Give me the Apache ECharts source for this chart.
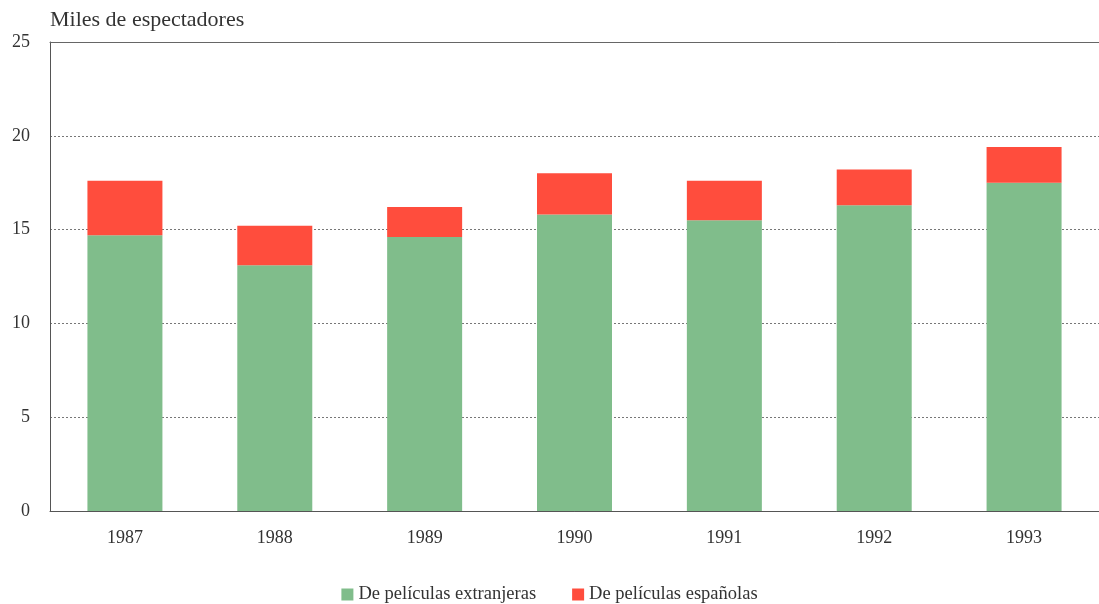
<!DOCTYPE html>
<html>
<head>
<meta charset="utf-8">
<script src="https://cdn.jsdelivr.net/npm/echarts@6/dist/echarts.min.js"></script>
<style>
  html, body { margin: 0; padding: 0; background: #fff; }
  #chart { width: 1099px; height: 604px; }
</style>
</head>
<body>
<div id="chart"></div>
<script>
// years on the x axis
const years = ['1987', '1988', '1989', '1990', '1991', '1992', '1993'];
// miles de espectadores
const extranjeras = [14.7, 13.1, 14.6, 15.8, 15.5, 16.3, 17.5];
const espanolas = [2.9, 2.1, 1.6, 2.2, 2.1, 1.9, 1.9];
const seriesNames = ['De películas extranjeras', 'De películas españolas'];

const font = '"Liberation Serif", "DejaVu Serif", serif';
const textColor = '#333';

var myChart = echarts.init(document.getElementById('chart'));

myChart.setOption({
  animation: false,
  textStyle: { fontFamily: font },
  title: {
    text: 'Miles de espectadores',
    left: 45,
    top: 4,
    textStyle: { fontFamily: font, fontSize: 22, fontWeight: 'normal', color: textColor }
  },
  legend: {
    top: 580,
    left: 'center',
    itemWidth: 12,
    itemHeight: 12,
    itemGap: 36,
    icon: 'rect',
    textStyle: { fontFamily: font, fontSize: 18.5, color: textColor },
    data: seriesNames
  },
  grid: { left: 50, right: 0, top: 42, bottom: 93 },
  xAxis: [
    {
      type: 'category',
      data: years,
      axisLine: { lineStyle: { color: '#555', width: 1 } },
      axisTick: { show: false },
      axisLabel: { margin: 18, fontFamily: font, fontSize: 18, color: textColor }
    },
    {
      type: 'category',
      position: 'top',
      data: years,
      axisLine: { show: true, lineStyle: { color: '#666', width: 1 } },
      axisTick: { show: false },
      axisLabel: { show: false }
    }
  ],
  yAxis: {
    type: 'value',
    min: 0,
    max: 25,
    interval: 5,
    axisLine: { show: true, lineStyle: { color: '#555', width: 1 } },
    axisTick: { show: false },
    axisLabel: { margin: 20, fontFamily: font, fontSize: 18, color: textColor },
    splitLine: { lineStyle: { color: '#777', type: [2, 2], width: 1 } }
  },
  series: [
    {
      name: seriesNames[0],
      type: 'bar',
      stack: 'total',
      barWidth: 75,
      data: extranjeras,
      itemStyle: { color: '#80bd8b' }
    },
    {
      name: seriesNames[1],
      type: 'bar',
      stack: 'total',
      barWidth: 75,
      data: espanolas,
      itemStyle: { color: '#ff4d3d' }
    }
  ]
});
</script>
</body>
</html>
